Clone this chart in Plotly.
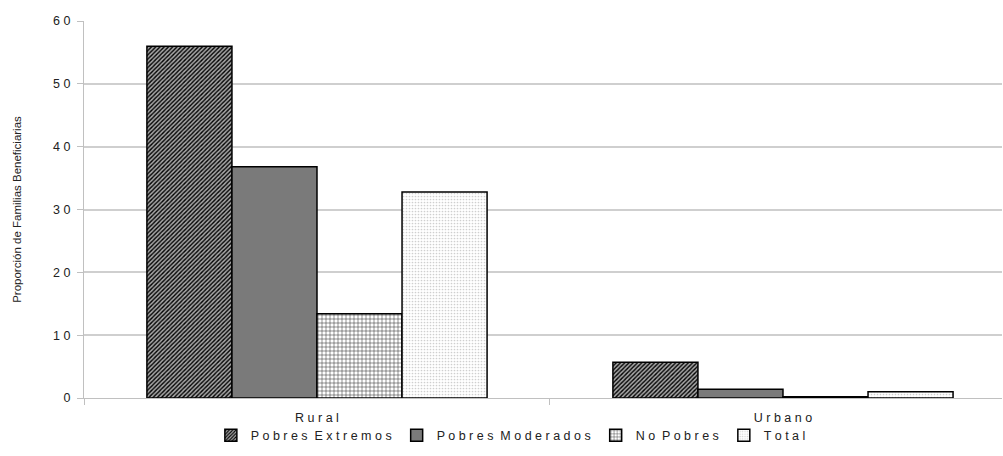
import plotly.graph_objects as go

# Area categories and series values (percent of beneficiary families)
categories = ["R u r a l", "U r b a n o"]
series_names = ["P o b r e s  E x t r e m o s", "P o b r e s  M o d e r a d o s",
                "N o  P o b r e s", "T o t a l"]
pobres_extremos = [56.0, 5.7]
pobres_moderados = [36.8, 1.4]
no_pobres = [13.4, 0.2]
total = [32.8, 1.0]

y_ticks = [0, 10, 20, 30, 40, 50, 60]
y_ticktext = ["0", "1 0", "2 0", "3 0", "4 0", "5 0", "6 0"]

font = dict(family="Liberation Sans, Arial, sans-serif", size=12, color="#222222")

styles = [
    dict(color="#9a9a9a", pattern=dict(shape="/", fgcolor="#000000", bgcolor="#a8a8a8",
                                        size=3, solidity=0.45, fillmode="replace")),
    dict(color="#7a7a7a", pattern=dict(shape="", fillmode="replace")),
    dict(color="#ffffff", pattern=dict(shape="+", fgcolor="#333333", bgcolor="#ffffff",
                                        size=4, solidity=0.25, fillmode="replace")),
    dict(color="#ffffff", pattern=dict(shape=".", fgcolor="#cfcfcf", bgcolor="#ffffff",
                                        size=3, solidity=0.25, fillmode="replace")),
]

fig = go.Figure()
for name, vals, st in zip(series_names, [pobres_extremos, pobres_moderados, no_pobres, total], styles):
    fig.add_trace(go.Bar(
        x=categories, y=vals, name=name,
        marker=dict(color=st["color"], pattern=st["pattern"],
                    line=dict(color="#000000", width=1.5)),
    ))

fig.update_layout(
    width=1003, height=456,
    margin=dict(l=84, r=1, t=21, b=58),
    paper_bgcolor="#ffffff", plot_bgcolor="#ffffff",
    barmode="group", bargap=0.27, bargroupgap=0,
    font=font,
    showlegend=True,
    legend=dict(orientation="h", x=0.465, xanchor="center", y=-0.1, yanchor="middle",
                font=dict(size=12.5), itemwidth=30, tracegroupgap=0,
                bgcolor="rgba(0,0,0,0)"),
    xaxis=dict(range=[-0.5, 1.47], tickson="boundaries", ticks="outside", ticklen=6,
               tickcolor="#c0c0c0", showline=True, linecolor="#c0c0c0", linewidth=1,
               showgrid=False, tickfont=dict(size=12.5), ticklabelstandoff=8),
    yaxis=dict(range=[0, 60], tickvals=y_ticks, ticktext=y_ticktext,
               ticks="outside", ticklen=6, tickcolor="#c0c0c0",
               showline=True, linecolor="#c0c0c0", linewidth=1,
               gridcolor="#cfcfcf", gridwidth=1.5, zeroline=False,
               tickfont=dict(size=12.5), ticklabelstandoff=4,
               title=dict(text="Proporción de Familias Beneficiarias", font=dict(size=11.5),
                          standoff=29)),
)

fig.write_html("out.html")
